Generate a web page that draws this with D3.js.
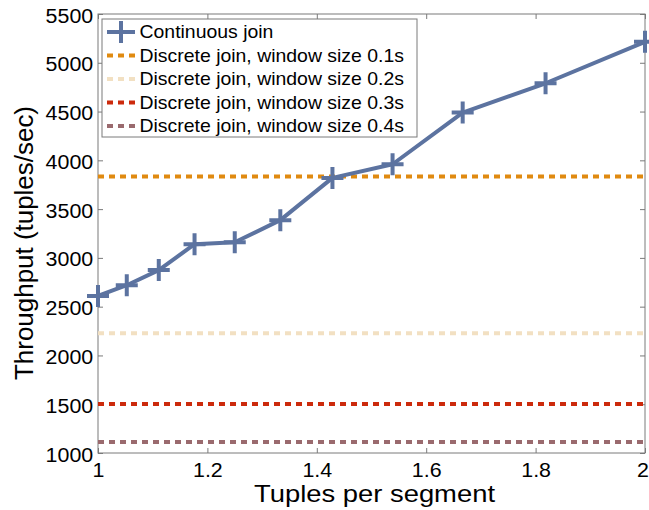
<!DOCTYPE html>
<html><head><meta charset="utf-8">
<script src="https://cdn.jsdelivr.net/npm/d3@7/dist/d3.min.js"></script>
<style>
html,body{margin:0;padding:0;background:#fff;}
svg{display:block;}
text{font-family:"Liberation Sans",Arial,Helvetica,sans-serif;}
</style></head>
<body>
<svg id="chart" width="649" height="510"></svg>
<script>
// Data
const tuplesPerSegment = [1, 1.0526, 1.1111, 1.1765, 1.25, 1.3333, 1.4286, 1.5385, 1.6667, 1.8182, 2];
const continuousThroughput = [2610, 2720, 2875, 3140, 3160, 3387, 3820, 3960, 4490, 4790, 5215];
const discreteLabels = ["Discrete join, window size 0.1s", "Discrete join, window size 0.2s", "Discrete join, window size 0.3s", "Discrete join, window size 0.4s"];
const discreteThroughput = [3835, 2228, 1502, 1113];
const discreteColors = ["#E08A10", "#F2E0C2", "#CC2A0C", "#9A6A6E"];
const continuousLabel = "Continuous join";
const continuousColor = "#5C73A0";
const xTicks = [1, 1.2, 1.4, 1.6, 1.8, 2];
const yTicks = [1000, 1500, 2000, 2500, 3000, 3500, 4000, 4500, 5000, 5500];

const svg = d3.select("#chart");
const mL = 98, mR = 645, mT = 14, mB = 453;
const x = d3.scaleLinear().domain([1, 2]).range([mL, mR]);
const y = d3.scaleLinear().domain([1000, 5500]).range([mB, mT]);
const axisColor = "#7a7a7a";
const sx = 1.07;

// frame
svg.append("rect").attr("x", mL).attr("y", mT).attr("width", mR-mL).attr("height", mB-mT)
  .attr("fill", "none").attr("stroke", axisColor).attr("stroke-width", 1);

// axes
const tl = 5;
const bx = svg.append("g").attr("transform", `translate(0,${mB})`)
  .call(d3.axisBottom(x).tickValues(xTicks).tickSize(-tl).tickPadding(10).tickFormat(d3.format("")));
const tx = svg.append("g").attr("transform", `translate(0,${mT})`)
  .call(d3.axisTop(x).tickValues(xTicks).tickSize(-tl).tickFormat(""));
const ly = svg.append("g").attr("transform", `translate(${mL},0)`)
  .call(d3.axisLeft(y).tickValues(yTicks).tickSize(-tl).tickPadding(4.5).tickFormat(d3.format("d")));
const ry = svg.append("g").attr("transform", `translate(${mR},0)`)
  .call(d3.axisRight(y).tickValues(yTicks).tickSize(-tl).tickFormat(""));
[bx, tx, ly, ry].forEach(g => {
  g.select(".domain").remove();
  g.selectAll(".tick line").attr("stroke", axisColor);
  g.selectAll("text").attr("fill", "#000").style("font-size", "20px")
    .attr("transform", `scale(${sx},1)`);
});
bx.selectAll("text").attr("dy", "0.71em");
bx.selectAll(".tick").filter(d => d === 2).select("text").attr("x", -2.5);
ly.selectAll("text").attr("dy", "0.4em");

// horizontal discrete lines
discreteThroughput.forEach((v, i) => {
  svg.append("line").attr("x1", x(1)).attr("x2", x(2)).attr("y1", y(v)).attr("y2", y(v))
    .attr("stroke", discreteColors[i]).attr("stroke-width", 4).attr("stroke-dasharray", "6,5");
});

// continuous line
const pts = tuplesPerSegment.map((t, i) => [t, continuousThroughput[i]]);
svg.append("path").datum(pts)
  .attr("d", d3.line().x(d => x(d[0])).y(d => y(d[1])))
  .attr("fill", "none").attr("stroke", continuousColor).attr("stroke-width", 4).attr("stroke-linejoin", "round");
const ms = 11;
svg.selectAll(".mk").data(pts).enter().append("path").attr("class", "mk")
  .attr("d", d => `M${x(d[0])-ms},${y(d[1])}H${x(d[0])+ms}M${x(d[0])},${y(d[1])-ms}V${y(d[1])+ms}`)
  .attr("stroke", continuousColor).attr("stroke-width", 4).attr("fill", "none");

// legend
const lg = svg.append("g");
lg.append("rect").attr("x", 102).attr("y", 19).attr("width", 315).attr("height", 118)
  .attr("fill", "#fff").attr("stroke", axisColor).attr("stroke-width", 1);
const rows = [continuousLabel].concat(discreteLabels);
rows.forEach((lab, i) => {
  const yy = 32 + i * 23.5;
  if (i === 0) {
    lg.append("line").attr("x1", 107).attr("x2", 135).attr("y1", yy).attr("y2", yy)
      .attr("stroke", continuousColor).attr("stroke-width", 4);
    lg.append("path").attr("d", `M${121-11},${yy}H${121+11}M121,${yy-11}V${yy+11}`)
      .attr("stroke", continuousColor).attr("stroke-width", 4);
  } else {
    lg.append("line").attr("x1", 107).attr("x2", 135).attr("y1", yy).attr("y2", yy)
      .attr("stroke", discreteColors[i-1]).attr("stroke-width", 4).attr("stroke-dasharray", "6,5");
  }
  lg.append("text").attr("transform", `translate(139.5,${yy}) scale(1.08,1)`).attr("dy", "0.36em")
    .style("font-size", "18px").attr("fill", "#000").text(lab);
});

// axis labels
svg.append("text").attr("x", 374.5).attr("y", 502).attr("text-anchor", "middle")
  .attr("textLength", 241).attr("lengthAdjust", "spacingAndGlyphs")
  .style("font-size", "24px").text("Tuples per segment");
svg.append("text").attr("transform", `translate(33,243) rotate(-90)`)
  .attr("text-anchor", "middle").attr("textLength", 274).attr("lengthAdjust", "spacingAndGlyphs")
  .style("font-size", "25px").text("Throughput (tuples/sec)");
</script>
</body></html>
